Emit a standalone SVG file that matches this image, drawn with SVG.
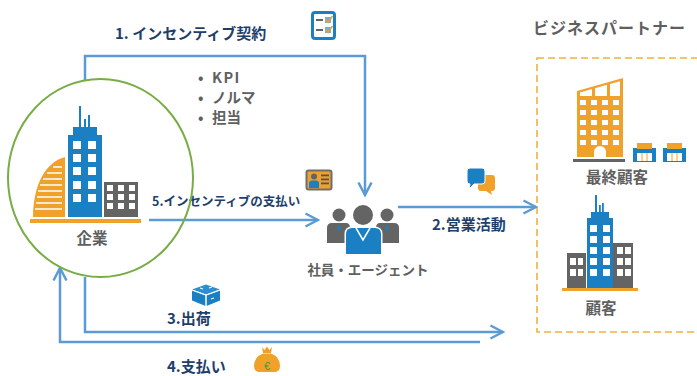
<svg xmlns="http://www.w3.org/2000/svg" width="697" height="376" viewBox="0 0 697 376">
  <style>
    .lbl { font-family: "Noto Sans CJK JP", "Noto Sans", sans-serif; font-weight: bold; fill: #1f3f6b; }
    .name { font-family: "Noto Sans CJK JP", "Noto Sans", sans-serif; font-weight: bold; fill: #5f5f5f; }
    .conn { fill: none; stroke: #5b9bd5; stroke-width: 2.5; }
    .blue { fill: #1b80c3; }
    .orange { fill: #f0a12a; }
    .gray { fill: #646464; }
    .win { fill: #ffffff; }
  </style>
  <defs>
    <marker id="arrow" markerUnits="userSpaceOnUse" markerWidth="16" markerHeight="16" viewBox="0 0 16 16" refX="14" refY="8" orient="auto">
      <path d="M1.5,1.5 L14,8 L1.5,14.5" fill="none" stroke="#5b9bd5" stroke-width="2.5"/>
    </marker>
  </defs>

  <rect width="697" height="376" fill="#ffffff"/>

  <!-- partner area -->
  <g id="partner-area">
    <rect x="537" y="58" width="200" height="274" fill="none" stroke="#f5b03e" stroke-width="1.6" stroke-dasharray="7 4"/>
    <text class="name" x="533" y="34" font-size="16" textLength="152" lengthAdjust="spacing">ビジネスパートナー</text>
  </g>

  <!-- connectors -->
  <g id="connectors">
    <path class="conn" d="M85,80 V56 H365 V195" marker-end="url(#arrow)"/>
    <path class="conn" d="M149,220 H318" marker-end="url(#arrow)"/>
    <path class="conn" d="M398,207 H536" marker-end="url(#arrow)"/>
    <path class="conn" d="M85,277 V332 H503" marker-end="url(#arrow)"/>
    <path class="conn" d="M480,342 H60 V268" marker-end="url(#arrow)"/>
  </g>

  <!-- connector labels and icons -->
  <g id="label-contract">
    <text class="lbl" x="115" y="39" font-size="15">1. インセンティブ契約</text>
    <rect x="312.5" y="12.5" width="22" height="26" rx="2.5" fill="#ffffff" stroke="#1b80c3" stroke-width="3"/>
    <rect x="316" y="19" width="7" height="2" fill="#646464"/>
    <rect x="316" y="29" width="7" height="2" fill="#646464"/>
    <rect x="325" y="17" width="6" height="6" fill="#6fb0de"/>
    <rect x="325" y="27" width="6" height="6" fill="#6fb0de"/>
    <path d="M325.5,19.5 L328,22.5 L332.5,16" fill="none" stroke="#f0a12a" stroke-width="1.5"/>
    <path d="M325.5,29.5 L328,32.5 L332.5,26" fill="none" stroke="#f0a12a" stroke-width="1.5"/>
  </g>

  <g id="label-terms">
    <text class="name" font-size="14.5" letter-spacing="1.5"><tspan x="198" y="82.5">•</tspan><tspan x="212" y="82.5">KPI</tspan></text>
    <text class="name" font-size="14.5"><tspan x="198" y="102.5">•</tspan><tspan x="212" y="102.5">ノルマ</tspan></text>
    <text class="name" font-size="14.5"><tspan x="198" y="122.5">•</tspan><tspan x="212" y="122.5">担当</tspan></text>
  </g>

  <g id="label-payout">
    <text class="lbl" x="152" y="205.5" font-size="12.5">5.インセンティブの支払い</text>
    <rect x="306.5" y="170.5" width="25" height="19" rx="2" fill="#f0a12a" stroke="#6e6e6e" stroke-width="2"/>
    <circle cx="314" cy="176.5" r="3" fill="#646464"/>
    <path d="M309,188 V183.5 Q309,180.5 312,180.5 H316 Q319,180.5 319,183.5 V188 Z" fill="#1b80c3"/>
    <rect x="321" y="174.5" width="8" height="1.8" fill="#555"/>
    <rect x="321" y="178.5" width="8" height="1.8" fill="#555"/>
    <rect x="321" y="182.5" width="8" height="1.8" fill="#555"/>
  </g>

  <g id="label-sales">
    <text class="lbl" x="432" y="229.5" font-size="15">2.営業活動</text>
    <path d="M481,175 H492 Q495,175 495,178 V188 Q495,191 492,191 H491 L492,195 L486,191 H481 Q478,191 478,188 V178 Q478,175 481,175 Z" fill="#f0a12a"/>
    <path d="M470,168 H482 Q485,168 485,171 V181 Q485,184 482,184 H474 L469,189 L470,184 Q467,184 467,181 V171 Q467,168 470,168 Z" fill="#1b80c3" stroke="#ffffff" stroke-width="1"/>
  </g>

  <g id="label-shipping">
    <text class="lbl" x="167" y="324" font-size="15">3.出荷</text>
    <path d="M206,284.5 L220,289.5 L206,294.5 L192,289.5 Z" fill="#2c8fd0"/>
    <path d="M192,290.5 L205.5,295.5 V306 L192,300.5 Z" fill="#1b80c3"/>
    <path d="M206.5,295.5 L220,290.5 V300.5 L206.5,306 Z" fill="#1b80c3"/>
    <path d="M192,290 L206,295 L220,290 M206,295 V306" fill="none" stroke="#ffffff" stroke-width="1"/>
    <path d="M200,288 L203,289 M209,288 L212,287 M211,299 L214,298" stroke="#ffffff" stroke-width="1.2"/>
  </g>

  <g id="label-payment">
    <text class="lbl" x="167" y="371.5" font-size="15">4.支払い</text>
    <path d="M262,347 L264.5,350 L267,346.5 L269.5,350 L272,347 L271,353 H263 Z" fill="#f0a12a"/>
    <path d="M263,353.5 H271 Q280,357 280,366 Q280,372 274,372 H260 Q254,372 254,366 Q254,357 263,353.5 Z" fill="#f0a12a"/>
    <text x="267" y="369.5" font-family="Liberation Sans, sans-serif" font-size="11" fill="#3a9a3a" text-anchor="middle">€</text>
  </g>

  <!-- company -->
  <g id="company">
    <ellipse cx="100.5" cy="178" rx="92.5" ry="99" fill="none" stroke="#78ad45" stroke-width="2"/>
    <path class="orange" d="M33,217 C33,186 45,162 65,157 V217 Z"/>
    <g stroke="#ffffff" stroke-width="1.6">
      <path d="M53,167 H62 M47,173 H62 M43,179 H62 M40,185 H62 M38,191 H62 M37,197 H62 M36,203 H62 M35,209 H62"/>
    </g>
    <rect class="blue" x="73" y="127" width="24" height="9"/>
    <rect class="blue" x="68" y="135" width="34" height="82"/>
    <rect class="blue" x="79" y="106" width="2" height="22"/>
    <rect class="blue" x="84" y="119" width="2" height="9"/>
    <rect class="blue" x="88" y="115" width="2" height="13"/>
    <g class="win">
      <rect x="73" y="141" width="8" height="8"/><rect x="88" y="141" width="8" height="8"/>
      <rect x="73" y="154" width="8" height="8"/><rect x="88" y="154" width="8" height="8"/>
      <rect x="73" y="167" width="8" height="8"/><rect x="88" y="167" width="8" height="8"/>
      <rect x="73" y="181" width="8" height="8"/><rect x="88" y="181" width="8" height="8"/>
      <rect x="73" y="194" width="8" height="8"/><rect x="88" y="194" width="8" height="8"/>
    </g>
    <rect class="gray" x="104" y="182" width="34" height="35"/>
    <g class="win">
      <rect x="107" y="185" width="6" height="6"/><rect x="118" y="185" width="6" height="6"/><rect x="129" y="185" width="6" height="6"/>
      <rect x="107" y="194" width="6" height="6"/><rect x="118" y="194" width="6" height="6"/><rect x="129" y="194" width="6" height="6"/>
      <rect x="107" y="203" width="6" height="6"/><rect x="118" y="203" width="6" height="6"/><rect x="129" y="203" width="6" height="6"/>
    </g>
    <rect class="orange" x="30" y="219" width="111" height="4"/>
    <text class="name" x="92" y="244" font-size="15.5" text-anchor="middle">企業</text>
  </g>

  <!-- employees / agents -->
  <g id="agents">
    <circle class="gray" cx="339" cy="215" r="6.5"/>
    <path class="gray" d="M327,243 V228 Q327,223 332,223 H346 Q350,223 350,228 V243 Z"/>
    <path d="M339,224 L337.5,228 L339,233 L340.5,228 Z" fill="#1b80c3"/>
    <circle class="gray" cx="387" cy="215" r="6.5"/>
    <path class="gray" d="M376,243 V228 Q376,223 380,223 H394 Q399,223 399,228 V243 Z"/>
    <path d="M387,224 L385.5,228 L387,233 L388.5,228 Z" fill="#1b80c3"/>
    <circle cx="363" cy="215" r="11.5" fill="#ffffff"/>
    <circle class="gray" cx="363" cy="215" r="10"/>
    <path d="M344.5,255 V234 Q344.5,226.5 352,226.5 H374 Q382.5,226.5 382.5,234 V255 Z" fill="#ffffff"/>
    <path class="blue" d="M346,254 V234 Q346,228 352,228 H375 Q381,228 381,234 V254 Z"/>
    <path d="M356,228 L363,240 L370,228" fill="none" stroke="#ffffff" stroke-width="1.5"/>
    <text class="name" x="368" y="275" font-size="13.5" text-anchor="middle">社員・エージェント</text>
  </g>

  <!-- end customers -->
  <g id="end-customer">
    <path class="orange" d="M577,91 L623,78 V157 H577 Z"/>
    <g class="win">
      <path d="M580,92.5 L592,89 V96 H580 Z"/>
      <path d="M595,88.2 L607,84.8 V96 H595 Z"/>
      <path d="M610,84 L620,81.2 V96 H610 Z"/>
      <rect x="580" y="100" width="6" height="5"/><rect x="591" y="100" width="6" height="5"/><rect x="602" y="100" width="6" height="5"/><rect x="613" y="100" width="6" height="5"/>
      <rect x="580" y="110" width="6" height="5"/><rect x="591" y="110" width="6" height="5"/><rect x="602" y="110" width="6" height="5"/><rect x="613" y="110" width="6" height="5"/>
      <rect x="580" y="120" width="6" height="5"/><rect x="591" y="120" width="6" height="5"/><rect x="602" y="120" width="6" height="5"/><rect x="613" y="120" width="6" height="5"/>
      <rect x="580" y="130" width="6" height="5"/><rect x="591" y="130" width="6" height="5"/><rect x="602" y="130" width="6" height="5"/><rect x="613" y="130" width="6" height="5"/>
      <rect x="580" y="140" width="6" height="5"/><rect x="591" y="140" width="6" height="5"/><rect x="602" y="140" width="6" height="5"/><rect x="613" y="140" width="6" height="5"/>
      <path d="M594,157 V152 A6,6 0 0 1 606,152 V157 Z"/>
    </g>
    <rect x="573" y="159" width="52" height="3" fill="#646464"/>
    <g id="shop-1">
      <rect x="633" y="148" width="23" height="14" fill="#1b80c3"/>
      <rect x="637" y="143" width="15" height="6" fill="#f0a12a"/>
      <rect x="637" y="153" width="15" height="8" fill="#ffffff"/>
      <path d="M642,153 V161 M647,153 V161" stroke="#f0a12a" stroke-width="1"/>
    </g>
    <g id="shop-2">
      <rect x="663" y="148" width="23" height="14" fill="#1b80c3"/>
      <rect x="667" y="143" width="15" height="6" fill="#f0a12a"/>
      <rect x="667" y="153" width="15" height="8" fill="#ffffff"/>
      <path d="M672,153 V161 M677,153 V161" stroke="#f0a12a" stroke-width="1"/>
    </g>
    <text class="name" x="617" y="183" font-size="15.5" text-anchor="middle">最終顧客</text>
  </g>

  <!-- customers -->
  <g id="customer">
    <rect class="gray" x="567" y="253" width="19" height="35"/>
    <rect class="gray" x="613" y="243" width="20" height="45"/>
    <rect class="blue" x="591" y="212" width="18" height="8"/>
    <rect class="blue" x="587" y="218" width="26" height="70"/>
    <rect class="blue" x="595" y="195" width="2" height="18"/>
    <rect class="blue" x="599" y="205" width="1.8" height="8"/>
    <rect class="blue" x="602" y="203" width="1.8" height="10"/>
    <g class="win">
      <rect x="590" y="225" width="7" height="7"/><rect x="603" y="225" width="7" height="7"/>
      <rect x="590" y="236" width="7" height="7"/><rect x="603" y="236" width="7" height="7"/>
      <rect x="590" y="247" width="7" height="7"/><rect x="603" y="247" width="7" height="7"/>
      <rect x="590" y="258" width="7" height="7"/><rect x="603" y="258" width="7" height="7"/>
      <rect x="590" y="269" width="7" height="7"/><rect x="603" y="269" width="7" height="7"/>
      <rect x="570" y="258" width="6" height="7"/><rect x="578" y="258" width="5" height="7"/>
      <rect x="570" y="269" width="6" height="7"/><rect x="578" y="269" width="5" height="7"/>
      <rect x="617" y="247" width="6" height="7"/><rect x="625" y="247" width="6" height="7"/>
      <rect x="617" y="258" width="6" height="7"/><rect x="625" y="258" width="6" height="7"/>
      <rect x="617" y="269" width="6" height="7"/><rect x="625" y="269" width="6" height="7"/>
    </g>
    <rect class="orange" x="562" y="288" width="76" height="3"/>
    <text class="name" x="601" y="314" font-size="15.5" text-anchor="middle">顧客</text>
  </g>
</svg>
